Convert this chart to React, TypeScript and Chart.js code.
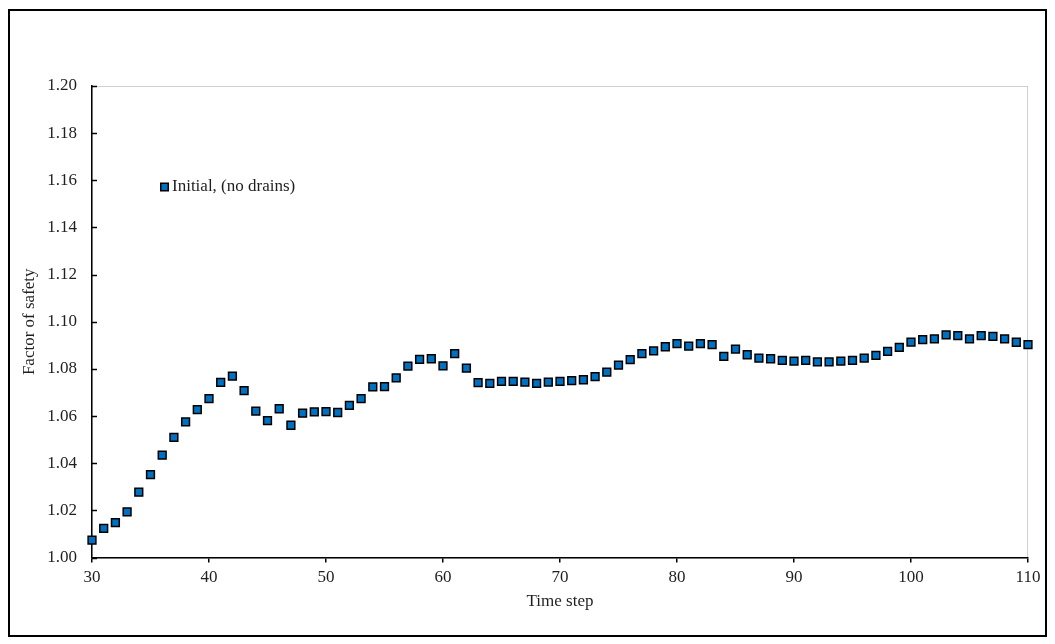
import React, { useEffect, useRef } from "react";
import { Chart, registerables } from "chart.js";

Chart.register(...registerables);

const seriesLabel = "Initial, (no drains)";
const xTitle = "Time step";
const yTitle = "Factor of safety";

const timeSteps = [
  30, 31, 32, 33, 34, 35, 36, 37, 38, 39,
  40, 41, 42, 43, 44, 45, 46, 47, 48, 49,
  50, 51, 52, 53, 54, 55, 56, 57, 58, 59,
  60, 61, 62, 63, 64, 65, 66, 67, 68, 69,
  70, 71, 72, 73, 74, 75, 76, 77, 78, 79,
  80, 81, 82, 83, 84, 85, 86, 87, 88, 89,
  90, 91, 92, 93, 94, 95, 96, 97, 98, 99,
  100, 101, 102, 103, 104, 105, 106, 107, 108, 109,
  110,
];

const fosValues = [
  1.0074, 1.0124, 1.0148, 1.0194, 1.0277, 1.0352, 1.0434, 1.051, 1.0575, 1.0627,
  1.0674, 1.0743, 1.0769, 1.0708, 1.0621, 1.0581, 1.0631, 1.0561, 1.0612, 1.0618,
  1.0619, 1.0615, 1.0645, 1.0674, 1.0724, 1.0725, 1.0762, 1.0812, 1.084, 1.0843,
  1.0813, 1.0865, 1.0803, 1.0742, 1.0739, 1.0747, 1.0747, 1.0744, 1.0739, 1.0744,
  1.0747, 1.075, 1.0754, 1.0767, 1.0786, 1.0816, 1.0839, 1.0865, 1.0876, 1.0894,
  1.0907, 1.0897, 1.0907, 1.0903, 1.0853, 1.0884, 1.086, 1.0846, 1.0843, 1.0836,
  1.0833, 1.0836, 1.083, 1.083, 1.0833, 1.0836, 1.0846, 1.0857, 1.0874, 1.0891,
  1.0914, 1.0924, 1.0927, 1.0944, 1.0941, 1.0927, 1.0941, 1.0938, 1.0927, 1.0913,
  1.0903,
];

const xMin = 30;
const xMax = 110;
const xStep = 10;
const yMin = 1.0;
const yMax = 1.2;
const yStep = 0.02;

const FONT = "'Liberation Serif', 'Times New Roman', serif";
const TEXT = "#1f1f1f";
const FILL = "#0070C0";

const W = 1055;
const H = 644;

const framePlugin = {
  id: "frame",
  beforeDraw(chart: any) {
    const { ctx, chartArea: a } = chart;
    ctx.save();
    ctx.fillStyle = "#ffffff";
    ctx.fillRect(0, 0, W, H);
    ctx.strokeStyle = "#000000";
    ctx.lineWidth = 2;
    ctx.strokeRect(9, 10, 1037, 626);
    ctx.strokeStyle = "#d0d0d0";
    ctx.lineWidth = 1;
    ctx.strokeRect(a.left, a.top + 0.5, a.right - a.left - 0.5, a.bottom - a.top);
    ctx.restore();
  },
  afterDraw(chart: any) {
    const { ctx, chartArea: a } = chart;
    const ys = chart.scales.y;
    ctx.save();
    ctx.strokeStyle = "#000000";
    ctx.lineWidth = 1.5;
    ys.ticks.forEach((_t: any, i: number) => {
      const py = Math.round(ys.getPixelForTick(i)) + 0.5;
      ctx.beginPath();
      ctx.moveTo(a.left, py);
      ctx.lineTo(a.left + 5, py);
      ctx.stroke();
    });
    // legend
    const ds = chart.data.datasets[0];
    const lx = 164.5;
    const ly = 187;
    const s = 7.5;
    ctx.fillStyle = ds.backgroundColor;
    ctx.fillRect(lx - s / 2, ly - s / 2, s, s);
    ctx.strokeStyle = "#000000";
    ctx.lineWidth = 1.5;
    ctx.strokeRect(lx - s / 2, ly - s / 2, s, s);
    ctx.fillStyle = TEXT;
    ctx.font = `17px ${FONT}`;
    ctx.textBaseline = "middle";
    ctx.textAlign = "left";
    ctx.fillText(ds.label, 172, ly);
    ctx.restore();
  },
};

export default function App() {
  const ref = useRef<HTMLCanvasElement | null>(null);

  useEffect(() => {
    if (!ref.current) return;
    const points = timeSteps.map((t, i) => ({ x: t, y: fosValues[i] }));
    const chart = new Chart(ref.current, {
      type: "scatter",
      data: {
        datasets: [
          {
            label: seriesLabel,
            data: points,
            pointStyle: "rect",
            pointRadius: 5.5,
            pointHoverRadius: 5.5,
            backgroundColor: FILL,
            borderColor: "#000000",
            borderWidth: 1.5,
            showLine: false,
            clip: false,
          },
        ],
      },
      options: {
        responsive: false,
        animation: false,
        devicePixelRatio: 1,
        layout: { padding: { top: 86, right: 27, left: 0, bottom: 0 } },
        plugins: {
          legend: { display: false },
          tooltip: { enabled: false },
        },
        scales: {
          x: {
            type: "linear",
            min: xMin,
            max: xMax,
            afterFit(scale: any) {
              scale.height = 86.5;
            },
            ticks: {
              stepSize: xStep,
              color: TEXT,
              font: { family: FONT, size: 17 },
              padding: 5,
              maxRotation: 0,
            },
            grid: {
              display: true,
              drawOnChartArea: false,
              drawTicks: true,
              tickLength: 5,
              color: "#000000",
              lineWidth: 1.5,
            },
            border: { display: true, color: "#000000", width: 1.5 },
            title: {
              display: true,
              text: xTitle,
              color: TEXT,
              font: { family: FONT, size: 17 },
              padding: { top: 0, bottom: 32 },
            },
          },
          y: {
            type: "linear",
            min: yMin,
            max: yMax,
            afterFit(scale: any) {
              scale.width = 92;
            },
            ticks: {
              stepSize: yStep,
              color: TEXT,
              font: { family: FONT, size: 17 },
              padding: 15,
              callback: (v: any) => Number(v).toFixed(2),
            },
            grid: {
              display: false,
              drawOnChartArea: false,
              drawTicks: false,
            },
            border: { display: true, color: "#000000", width: 1.5 },
            title: {
              display: true,
              text: yTitle,
              color: TEXT,
              font: { family: FONT, size: 17 },
              padding: { top: 19, bottom: 0 },
            },
          },
        },
      },
      plugins: [framePlugin],
    });
    return () => chart.destroy();
  }, []);

  return (
    <div style={{ position: "absolute", left: 0, top: 0, width: W, height: H }}>
      <canvas ref={ref} width={W} height={H} style={{ width: W, height: H, display: "block" }} />
    </div>
  );
}
